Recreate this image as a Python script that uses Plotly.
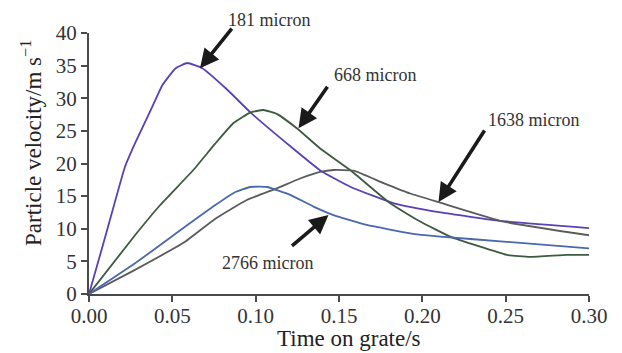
import plotly.graph_objects as go

# ---- data ----
t_181 = [0, 0.0100, 0.0216, 0.028, 0.038, 0.044, 0.052, 0.059, 0.068, 0.083, 0.097,
         0.121, 0.139, 0.157, 0.183, 0.211, 0.247, 0.30]
v_181 = [0, 9.0, 19.5, 23.3, 28.7, 32.0, 34.6, 35.4, 34.6, 31.3, 27.8,
         22.6, 18.9, 16.4, 13.9, 12.5, 11.2, 10.1]

t_668 = [0, 0.0276, 0.0426, 0.0626, 0.0756, 0.0867, 0.0967, 0.1047, 0.1127, 0.1247,
         0.1387, 0.1567, 0.1807, 0.1987, 0.2167, 0.2507, 0.2647, 0.2867, 0.30]
v_668 = [0, 9.0, 13.6, 19.0, 23.0, 26.2, 27.8, 28.2, 27.6, 25.4,
         22.3, 19.0, 13.9, 11.1, 8.8, 6.0, 5.7, 6.0, 6.0]

t_1638 = [0, 0.0276, 0.0576, 0.0756, 0.0947, 0.1127, 0.1267, 0.1387, 0.1467, 0.1587,
          0.1767, 0.1927, 0.2107, 0.2487, 0.30]
v_1638 = [0, 3.7, 8.0, 11.5, 14.4, 16.2, 17.7, 18.7, 19.0, 18.9,
          17.0, 15.4, 14.0, 11.1, 9.0]

t_2766 = [0, 0.0276, 0.0576, 0.0756, 0.0876, 0.0967, 0.1067, 0.1207, 0.1347, 0.1467, 0.1667,
          0.1927, 0.2107, 0.2507, 0.30]
v_2766 = [0, 4.7, 10.3, 13.6, 15.6, 16.4, 16.4, 15.2, 13.4, 12.1, 10.6,
          9.3, 8.8, 8.0, 7.0]

x_ticks = [0, 0.05, 0.10, 0.15, 0.20, 0.25, 0.30]
x_tick_labels = ["0.00", "0.05", "0.10", "0.15", "0.20", "0.25", "0.30"]
y_ticks = [0, 5, 10, 15, 20, 25, 30, 35, 40]

labels = ["181 micron", "668 micron", "1638 micron", "2766 micron"]
colors = ["#5a40b5", "#3e5a40", "#5a5c5c", "#4a68ad"]

SERIF = "Liberation Serif, Times New Roman, serif"

fig = go.Figure()
for tt, vv, c, name in zip([t_181, t_668, t_1638, t_2766],
                           [v_181, v_668, v_1638, v_2766], colors, labels):
    fig.add_trace(go.Scatter(x=tt, y=vv, mode="lines", name=name,
                             line=dict(color=c, width=1.8, shape="spline", smoothing=0.4)))

axis_common = dict(showgrid=False, zeroline=False, showline=True, linecolor="#4a4a4a",
                   linewidth=2, ticks="outside", ticklen=6, tickwidth=2, tickcolor="#4a4a4a",
                   tickfont=dict(family=SERIF, size=21, color="#333333"))

fig.update_xaxes(range=[0, 0.30], tickvals=x_ticks, ticktext=x_tick_labels,
                 ticklabelstandoff=-4, **axis_common)
fig.update_yaxes(range=[0, 40], tickvals=y_ticks, **axis_common)

# arrows (tip at curve, tail offset in pixels)
arrow_specs = [
    (0.0666, 34.6, 33, -41),
    (0.1257, 25.4, 30, -43),
    (0.2097, 14.1, 47, -73),
    (0.1437, 12.1, -38, 32),
]
for x, y, ax, ay in arrow_specs:
    fig.add_annotation(x=x, y=y, ax=ax, ay=ay, text="", showarrow=True,
                       arrowhead=2, arrowsize=1.05, arrowwidth=3.6, arrowcolor="#1a1a1a")

# labels (pixel positions converted to paper coords: plot area 89..589 x 33..294)
label_pos = [(269, 20), (375.5, 74.5), (534, 119.5), (268.3, 263.3)]
for (px, py), txt in zip(label_pos, labels):
    fig.add_annotation(xref="paper", yref="paper", x=(px - 89) / 500, y=(294 - py) / 261,
                       text=txt, showarrow=False, xanchor="center", yanchor="middle",
                       font=dict(family=SERIF, size=18, color="#333333"))

# axis titles
fig.add_annotation(xref="paper", yref="paper", x=(349 - 89) / 500, y=(294 - 338) / 261,
                   text="Time on grate/s", showarrow=False, xanchor="center", yanchor="middle",
                   font=dict(family=SERIF, size=23, color="#222222"))
fig.add_annotation(xref="paper", yref="paper", x=(31 - 89) / 500, y=(294 - 143) / 261,
                   text="Particle velocity/m s<sup>\u22121</sup>", textangle=-90,
                   showarrow=False, xanchor="center", yanchor="middle",
                   font=dict(family=SERIF, size=23, color="#222222"))

fig.update_layout(width=622, height=353, showlegend=False,
                  margin=dict(l=89, r=33, t=33, b=59),
                  plot_bgcolor="white", paper_bgcolor="white")

fig.write_html("out.html")
